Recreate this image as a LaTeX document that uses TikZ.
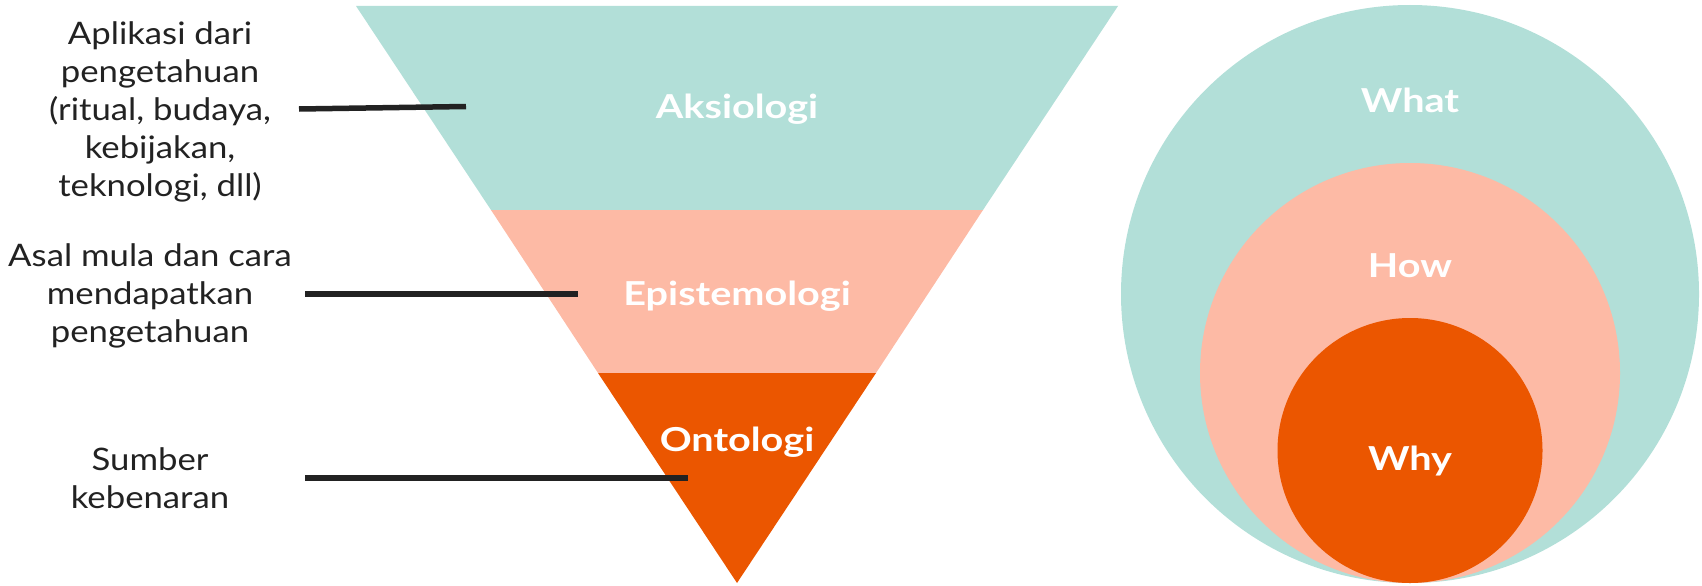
\documentclass[tikz,border=0pt]{standalone}
\usepackage{fontspec}
\setmainfont{Lato}
\newfontfamily\descfont[FakeStretch=1.12]{Lato}
\newfontfamily\lvlfont[FakeStretch=1.2]{Lato}
\definecolor{teal1}{HTML}{B2DFD8}
\definecolor{salmon1}{HTML}{FDBAA5}
\definecolor{orange1}{HTML}{EB5600}
\definecolor{ink}{HTML}{222222}
\begin{document}
\begin{tikzpicture}[x=1pt,y=-1pt,
  desc/.style={align=center,inner sep=0pt,text=ink,font=\descfont\fontsize{31}{38}\selectfont},
  lvl/.style={anchor=base,inner sep=0pt,text=white,font=\lvlfont\fontsize{33}{40}\selectfont\bfseries},
  leader/.style={line width=5.5pt,draw=ink}]
\useasboundingbox (0,0) rectangle (1702,586);
% inverted triangle
\fill[teal1] (356,6) -- (1118,6) -- (983,210) -- (491,210) -- cycle;
\fill[salmon1] (491,210) -- (983,210) -- (876,373) -- (598,373) -- cycle;
\fill[orange1] (598,373) -- (876,373) -- (737,583) -- cycle;
\node[lvl] (aks) at (737,118) {Aksiologi};
\node[lvl] (epi) at (737,305) {Epistemologi};
\node[lvl] (ont) at (737,451) {Ontologi};
% circles
\fill[teal1] (1410,294) circle[radius=289];
\fill[salmon1] (1410,373) circle[radius=210];
\fill[orange1] (1410,450.5) circle[radius=132.5];
\node[lvl] (what) at (1410,112) {What};
\node[lvl] (how) at (1410,277) {How};
\node[lvl] (why) at (1410,470) {Why};
% descriptions
\node[desc] (d1) at (160,112) {Aplikasi dari\\pengetahuan\\(ritual, budaya,\\kebijakan,\\teknologi, dll)};
\node[desc] (d2) at (150,296) {Asal mula dan cara\\mendapatkan\\pengetahuan};
\node[desc] (d3) at (150,478) {Sumber\\kebenaran};
% leaders
\coordinate (l1a) at (299,109); \coordinate (l1b) at (466,106.5);
\coordinate (l2a) at (305,294); \coordinate (l2b) at (578,294);
\coordinate (l3a) at (305,478); \coordinate (l3b) at (688,478);
\draw[leader] (l1a) -- (l1b);
\draw[leader] (l2a) -- (l2b);
\draw[leader] (l3a) -- (l3b);
\end{tikzpicture}
\end{document}
